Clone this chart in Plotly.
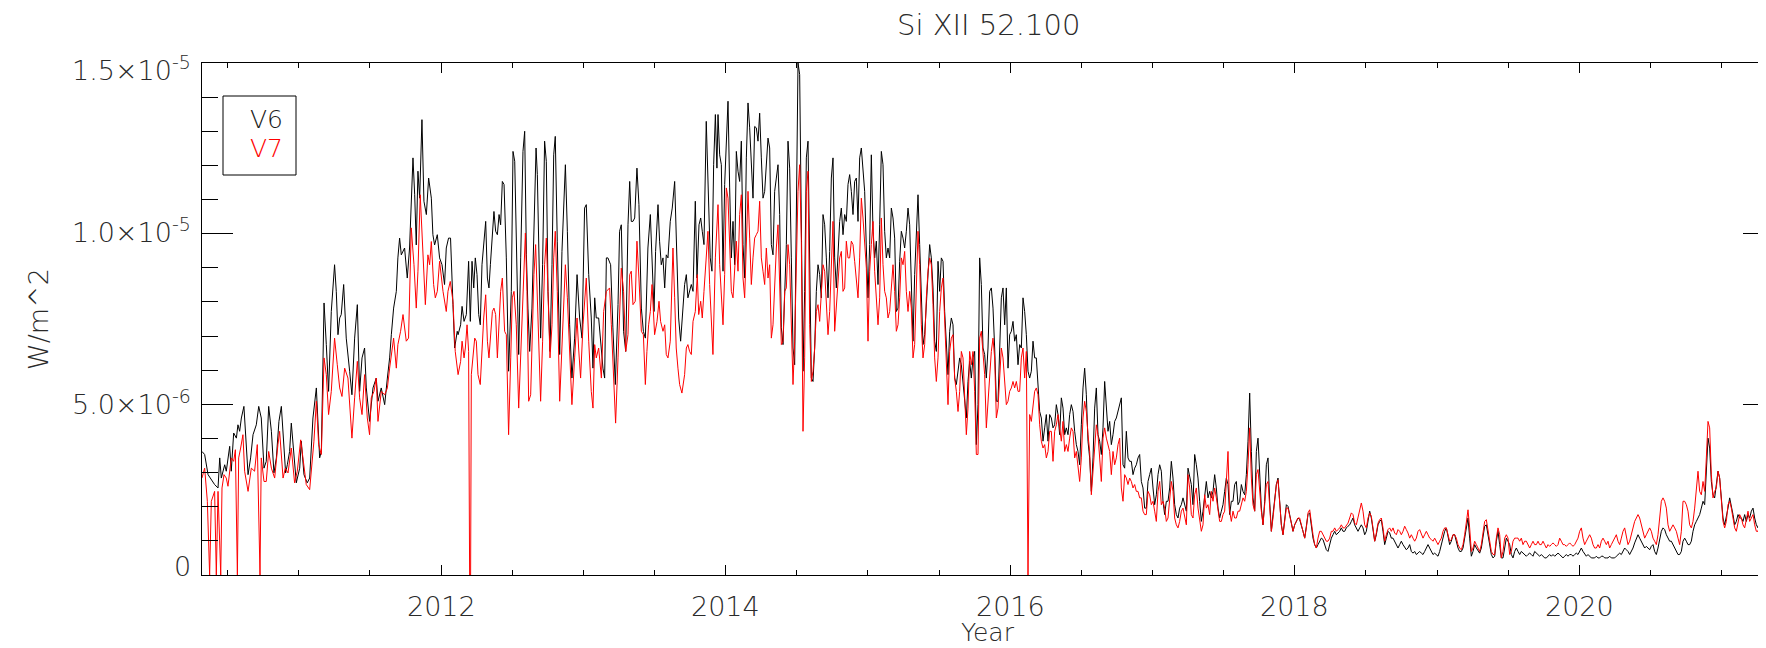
import numpy as np
import plotly.graph_objects as go

# ---------------- text ----------------
title_text = "Si XII 52.100"
x_title = "Year"
y_title = "W/m^2"
series_names = ["V6", "V7"]
series_colors = ["#000000", "#ff0000"]

x_tick_years = [2012, 2014, 2016, 2018, 2020]
y_tick_values = [0.0, 5e-6, 1e-5, 1.5e-5]
y_tick_labels = ["0", "5.0\u00d710<sup>-6</sup>", "1.0\u00d710<sup>-5</sup>", "1.5\u00d710<sup>-5</sup>"]
unit = 1e-6  # values below are in units of 1e-6 W/m^2

# ---------------- data: 2010.3 - 2014.0 (decimal year, value) ----------------
v6_early = [
    (2010.320, 3.62), (2010.339, 3.53), (2010.363, 2.94), (2010.386, 2.79), (2010.409, 2.65),
    (2010.433, 2.55), (2010.445, 3.43), (2010.456, 2.84), (2010.480, 3.23), (2010.491, 3.04),
    (2010.515, 3.77), (2010.526, 3.04), (2010.543, 4.16), (2010.562, 4.01), (2010.573, 4.40),
    (2010.585, 4.21), (2010.597, 4.60), (2010.615, 4.94), (2010.632, 3.82), (2010.644, 2.94),
    (2010.662, 3.43), (2010.679, 4.11), (2010.702, 4.40), (2010.719, 4.94), (2010.737, 4.60),
    (2010.756, 3.13), (2010.772, 3.33), (2010.789, 4.94), (2010.808, 4.21), (2010.826, 2.99),
    (2010.843, 3.43), (2010.861, 4.50), (2010.878, 4.94), (2010.897, 3.62), (2010.908, 2.99),
    (2010.920, 3.23), (2010.936, 3.62), (2010.948, 4.45), (2010.964, 3.67), (2010.983, 2.70),
    (2011.007, 3.13), (2011.018, 3.92), (2011.037, 2.94), (2011.060, 2.70), (2011.077, 2.84),
    (2011.100, 4.60), (2011.124, 5.48), (2011.135, 4.40), (2011.147, 3.43), (2011.159, 3.62),
    (2011.178, 7.97), (2011.194, 6.75), (2011.210, 5.38), (2011.229, 7.72), (2011.252, 9.09),
    (2011.264, 8.31), (2011.276, 7.04), (2011.288, 7.53), (2011.299, 7.63), (2011.316, 8.51),
    (2011.334, 6.94), (2011.358, 5.97), (2011.374, 5.28), (2011.393, 6.94), (2011.412, 7.92),
    (2011.428, 5.38), (2011.445, 6.36), (2011.463, 6.65), (2011.475, 5.48), (2011.498, 4.50),
    (2011.522, 5.48), (2011.545, 5.77), (2011.557, 5.09), (2011.580, 5.48), (2011.604, 4.99),
    (2011.623, 5.77), (2011.639, 6.36), (2011.651, 7.04), (2011.667, 7.82), (2011.686, 8.31),
    (2011.697, 9.29), (2011.709, 9.87), (2011.721, 9.38), (2011.744, 9.58), (2011.763, 8.70),
    (2011.779, 9.58), (2011.791, 11.14), (2011.803, 12.22), (2011.815, 11.14), (2011.826, 9.67),
    (2011.838, 11.83), (2011.850, 11.04), (2011.866, 13.34), (2011.880, 10.95), (2011.897, 10.56),
    (2011.913, 11.63), (2011.932, 11.04), (2011.943, 9.97), (2011.955, 9.67), (2011.974, 9.97),
    (2011.990, 9.29), (2012.007, 9.09), (2012.025, 8.51), (2012.037, 9.58), (2012.053, 9.87),
    (2012.067, 9.87), (2012.084, 7.92), (2012.096, 6.65), (2012.114, 7.14),
    (2012.120, 7.04), (2012.138, 7.33), (2012.148, 7.87), (2012.162, 7.43), (2012.178, 7.63),
    (2012.194, 9.19), (2012.206, 7.43), (2012.218, 9.19), (2012.230, 8.41), (2012.241, 9.29),
    (2012.253, 8.80), (2012.265, 7.63), (2012.276, 7.33), (2012.288, 9.09), (2012.300, 9.68),
    (2012.314, 10.36), (2012.326, 8.70), (2012.337, 8.41), (2012.347, 9.09), (2012.361, 9.87),
    (2012.372, 10.65), (2012.384, 10.07), (2012.396, 9.97), (2012.408, 10.56), (2012.419, 10.26),
    (2012.431, 11.53), (2012.443, 11.44), (2012.459, 9.29), (2012.475, 5.97), (2012.494, 8.31),
    (2012.506, 12.41), (2012.518, 12.12), (2012.534, 8.80), (2012.546, 6.46), (2012.560, 9.29),
    (2012.576, 12.41), (2012.588, 13.00), (2012.600, 9.38), (2012.611, 7.82), (2012.623, 6.55),
    (2012.639, 7.82), (2012.653, 9.87), (2012.668, 12.51), (2012.677, 11.73), (2012.689, 9.29),
    (2012.700, 6.94), (2012.714, 9.09), (2012.728, 12.71), (2012.740, 12.12), (2012.752, 8.31),
    (2012.766, 6.55), (2012.780, 9.09), (2012.792, 12.31), (2012.803, 12.85), (2012.817, 9.78),
    (2012.834, 6.46), (2012.850, 9.48), (2012.874, 12.02), (2012.888, 10.07), (2012.904, 7.33),
    (2012.920, 5.77), (2012.939, 6.94), (2012.956, 8.80), (2012.974, 7.53), (2012.991, 6.94),
    (2013.009, 10.75), (2013.021, 10.85), (2013.038, 8.80), (2013.056, 7.53), (2013.068, 6.06),
    (2013.080, 8.12), (2013.091, 7.53), (2013.108, 7.53), (2013.127, 6.65), (2013.138, 6.06),
    (2013.150, 5.77), (2013.162, 9.29), (2013.173, 9.29), (2013.192, 9.09), (2013.208, 7.24),
    (2013.225, 5.58), (2013.244, 7.92), (2013.255, 10.07), (2013.267, 10.26), (2013.283, 7.14),
    (2013.298, 6.55), (2013.314, 10.26), (2013.326, 11.53), (2013.337, 10.36), (2013.349, 10.36),
    (2013.361, 10.46), (2013.377, 11.92), (2013.391, 10.85), (2013.408, 7.82), (2013.422, 7.14),
    (2013.436, 6.94), (2013.454, 9.58), (2013.471, 10.56), (2013.483, 9.09), (2013.497, 7.72),
    (2013.508, 9.48), (2013.525, 10.85), (2013.536, 9.78), (2013.548, 9.09), (2013.560, 9.29),
    (2013.572, 8.41), (2013.583, 9.38), (2013.595, 9.29), (2013.611, 10.36), (2013.625, 10.75),
    (2013.642, 11.53), (2013.653, 9.68), (2013.670, 7.53), (2013.684, 6.85), (2013.700, 7.72),
    (2013.712, 8.51), (2013.724, 8.80), (2013.735, 8.12), (2013.759, 8.51), (2013.771, 8.31),
    (2013.787, 10.95), (2013.799, 8.70), (2013.813, 10.26), (2013.825, 10.46), (2013.836, 10.07),
    (2013.848, 9.68), (2013.864, 13.29), (2013.881, 10.56), (2013.892, 9.29), (2013.904, 8.90),
    (2013.916, 12.02), (2013.928, 13.49), (2013.939, 11.92),
]

v7_early = [
    (2010.320, 2.84), (2010.339, 3.13), (2010.358, 2.16), (2010.374, 0.0), (2010.386, 2.16),
    (2010.409, 2.45), (2010.421, 0.0), (2010.433, 2.45), (2010.452, 0.0), (2010.461, 2.55),
    (2010.475, 2.94), (2010.491, 2.84), (2010.503, 2.60), (2010.515, 3.04), (2010.526, 3.43),
    (2010.543, 3.33), (2010.555, 3.67), (2010.569, 0.0), (2010.578, 3.43), (2010.592, 3.72),
    (2010.608, 4.11), (2010.620, 3.04), (2010.644, 2.45), (2010.667, 3.13), (2010.690, 3.04),
    (2010.709, 3.82), (2010.728, 0.0), (2010.737, 3.43), (2010.756, 2.74), (2010.772, 2.74),
    (2010.789, 3.62), (2010.808, 3.13), (2010.831, 2.84), (2010.854, 3.82), (2010.866, 4.21),
    (2010.890, 2.84), (2010.906, 3.13), (2010.925, 2.99), (2010.948, 3.72), (2010.971, 2.70),
    (2010.990, 3.04), (2011.014, 3.96), (2011.037, 3.23), (2011.053, 2.65), (2011.077, 2.50),
    (2011.089, 3.04), (2011.107, 3.92), (2011.124, 5.09), (2011.140, 3.82), (2011.159, 3.53),
    (2011.178, 6.36), (2011.194, 5.87), (2011.210, 4.70), (2011.229, 5.38), (2011.252, 6.94),
    (2011.271, 6.16), (2011.288, 5.48), (2011.304, 5.23), (2011.323, 6.06), (2011.346, 5.77),
    (2011.358, 5.09), (2011.374, 4.01), (2011.393, 5.19), (2011.412, 6.26), (2011.428, 5.19),
    (2011.445, 4.70), (2011.463, 5.87), (2011.482, 4.60), (2011.498, 4.11), (2011.510, 5.19),
    (2011.529, 5.38), (2011.545, 5.77), (2011.557, 4.50), (2011.580, 5.38), (2011.604, 5.28),
    (2011.623, 5.48), (2011.639, 6.06), (2011.651, 6.45), (2011.667, 6.94), (2011.686, 6.06),
    (2011.697, 6.75), (2011.716, 7.14), (2011.733, 7.63), (2011.756, 6.85), (2011.772, 6.94),
    (2011.791, 10.17), (2011.810, 9.09), (2011.826, 7.82), (2011.838, 8.90), (2011.854, 11.14),
    (2011.873, 9.48), (2011.890, 7.92), (2011.908, 9.38), (2011.920, 9.09), (2011.932, 9.77),
    (2011.948, 8.51), (2011.960, 8.12), (2011.974, 8.31), (2011.990, 9.19), (2012.014, 8.31),
    (2012.037, 7.72), (2012.049, 8.31), (2012.065, 8.60), (2012.084, 8.02), (2012.100, 6.55),
    (2012.120, 5.87), (2012.138, 6.26), (2012.148, 6.85), (2012.162, 6.36), (2012.171, 6.65),
    (2012.183, 7.33), (2012.194, 6.55), (2012.201, 0.0), (2012.208, 0.0), (2012.213, 5.87),
    (2012.225, 6.55), (2012.237, 6.94), (2012.248, 6.85), (2012.260, 5.87), (2012.276, 5.58),
    (2012.288, 6.75), (2012.300, 7.53), (2012.314, 8.21), (2012.326, 6.85), (2012.337, 6.36),
    (2012.347, 6.94), (2012.361, 7.72), (2012.372, 7.82), (2012.384, 7.63), (2012.396, 6.36),
    (2012.408, 7.53), (2012.419, 8.31), (2012.431, 8.70), (2012.447, 7.14), (2012.459, 7.04),
    (2012.475, 4.11), (2012.490, 6.36), (2012.501, 8.12), (2012.513, 8.31), (2012.529, 7.33),
    (2012.546, 4.89), (2012.560, 6.36), (2012.576, 8.31), (2012.593, 10.02), (2012.604, 8.31),
    (2012.616, 5.09), (2012.630, 5.28), (2012.642, 7.33), (2012.653, 8.80), (2012.665, 9.68),
    (2012.677, 8.31), (2012.689, 6.36), (2012.700, 5.09), (2012.714, 6.85), (2012.728, 9.09),
    (2012.740, 9.87), (2012.752, 8.31), (2012.766, 6.36), (2012.780, 7.33), (2012.792, 9.29),
    (2012.803, 10.07), (2012.817, 8.31), (2012.834, 5.09), (2012.850, 6.55), (2012.874, 9.09),
    (2012.888, 8.12), (2012.904, 6.36), (2012.920, 4.99), (2012.939, 6.36), (2012.956, 7.53),
    (2012.967, 6.65), (2012.981, 5.77), (2012.998, 7.33), (2013.009, 8.12), (2013.021, 8.70),
    (2013.038, 6.85), (2013.056, 5.38), (2013.068, 4.89), (2013.080, 6.75), (2013.091, 6.36),
    (2013.108, 6.65), (2013.127, 5.77), (2013.143, 7.72), (2013.162, 8.31), (2013.185, 8.41),
    (2013.197, 7.33), (2013.213, 5.87), (2013.227, 4.45), (2013.244, 6.36), (2013.255, 7.72),
    (2013.267, 8.99), (2013.283, 8.31), (2013.298, 6.55), (2013.314, 7.04), (2013.326, 8.80),
    (2013.337, 8.90), (2013.349, 7.92), (2013.365, 8.02), (2013.377, 9.78), (2013.391, 8.70),
    (2013.408, 7.14), (2013.422, 7.04), (2013.436, 5.58), (2013.447, 6.55), (2013.459, 7.33),
    (2013.471, 7.72), (2013.483, 8.51), (2013.501, 7.04), (2013.518, 7.43), (2013.532, 8.02),
    (2013.543, 7.43), (2013.560, 7.14), (2013.572, 7.33), (2013.583, 6.46), (2013.595, 6.36),
    (2013.611, 6.85), (2013.630, 9.58), (2013.642, 8.12), (2013.653, 6.65), (2013.665, 6.06),
    (2013.677, 5.58), (2013.693, 5.33), (2013.712, 5.87), (2013.724, 6.65), (2013.735, 6.75),
    (2013.747, 6.55), (2013.759, 6.46), (2013.771, 7.43), (2013.787, 7.72), (2013.801, 8.80),
    (2013.811, 7.63), (2013.825, 8.02), (2013.836, 7.53), (2013.848, 8.31), (2013.864, 9.48),
    (2013.876, 10.07), (2013.888, 8.51), (2013.899, 7.33), (2013.911, 6.46), (2013.928, 9.29),
    (2013.942, 10.85),
]

# ---------------- data: 2014.0 - 2021.4, regular cadence (~4.3 days) ----------------
cadence = 0.011712  # years between samples
segment_starts = [2013.9466, 2015.7737, 2017.6009, 2019.4280]

v6_2014 = [13.49, 12.31, 12.02, 8.90, 11.44, 12.71, 13.88, 11.34, 9.29, 10.36,
           9.09, 12.41, 11.83, 11.53, 12.71, 9.68, 8.70, 12.22, 13.83, 13.10,
           11.92, 11.04, 13.14, 13.10, 12.71, 13.53, 12.22, 11.04, 11.24, 11.92,
           12.80, 12.51, 9.68, 9.38, 11.24, 11.63, 12.02, 10.56, 7.24, 6.75,
           8.41, 9.68, 12.71, 11.92, 9.29, 6.65, 6.16, 11.24, 15.00, 14.66,
           11.04, 5.97, 8.31, 12.22, 12.71, 9.29, 5.77, 5.67, 6.65, 8.31,
           9.09, 8.80, 8.12, 10.56, 10.26, 9.29, 8.12, 9.48, 11.63, 12.22,
           9.29, 8.41, 9.38, 10.36, 10.75, 9.97, 10.56, 10.36, 11.44, 11.73,
           11.24, 10.56, 11.53, 11.63, 10.36, 12.22, 12.51, 11.92, 11.24, 9.58,
           8.12, 9.68, 12.31, 10.07, 9.29, 9.78, 8.51, 10.26, 12.41, 12.02,
           10.07, 9.29, 9.58, 9.29, 10.75, 10.46, 9.87, 7.72, 7.82, 9.19,
           10.07, 9.87, 9.58, 10.07, 10.75, 10.26, 8.31, 6.85, 8.80, 10.07,
           11.14, 9.68, 8.31, 6.75, 7.04, 8.02, 8.80, 9.68, 9.29, 8.41,
           6.85, 6.55, 9.19, 8.31, 9.29, 9.19, 7.72, 6.85, 5.87, 7.14,
           7.53, 7.33, 5.77, 5.58, 6.06, 6.36, 6.16, 5.58, 4.99, 4.60,
           5.67, 6.26, 5.77, 6.36, 6.55, 3.82]
v7_2014 = [10.85, 9.09, 8.12, 7.33, 8.80, 11.34, 11.04, 9.68, 8.31, 8.12,
           9.09, 9.78, 8.90, 10.56, 11.14, 8.70, 8.12, 9.97, 11.24, 9.87,
           8.51, 9.29, 9.87, 9.97, 10.07, 10.95, 9.29, 8.90, 8.51, 9.58,
           8.70, 9.09, 6.94, 7.33, 8.70, 9.58, 10.26, 8.80, 6.75, 6.85,
           8.31, 8.41, 9.68, 9.09, 7.33, 5.58, 6.85, 9.29, 11.24, 12.02,
           9.78, 4.21, 6.36, 11.24, 11.83, 7.33, 5.67, 5.97, 6.65, 7.72,
           7.92, 7.43, 8.31, 9.09, 8.90, 7.72, 7.04, 7.72, 9.38, 10.36,
           7.14, 7.82, 8.51, 9.29, 9.48, 8.31, 8.41, 9.78, 9.29, 9.29,
           9.78, 9.68, 9.19, 8.70, 8.12, 9.29, 11.04, 10.46, 9.78, 8.99,
           6.85, 8.90, 9.68, 10.36, 8.90, 8.12, 7.33, 8.12, 10.46, 9.09,
           8.31, 8.12, 7.53, 7.72, 8.51, 9.09, 8.31, 7.14, 7.33, 8.12,
           9.29, 9.09, 9.48, 8.31, 7.72, 8.31, 7.82, 6.36, 6.75, 8.51,
           10.07, 9.09, 7.33, 6.36, 6.75, 8.12, 8.90, 9.29, 9.09, 7.92,
           6.36, 5.67, 6.36, 7.72, 8.41, 8.70, 7.53, 6.46, 4.99, 6.55,
           6.94, 7.04, 5.77, 5.38, 4.79, 5.38, 6.55, 6.36, 5.38, 4.11,
           4.89, 6.55, 6.16, 6.55, 5.38, 3.53]

v6_2016 = [4.99, 9.29, 8.51, 6.65, 6.46, 5.77, 6.65, 8.31, 8.41, 7.82,
           6.65, 5.09, 5.09, 6.85, 8.12, 8.41, 7.33, 8.41, 6.06, 7.04,
           7.14, 7.43, 6.85, 7.04, 6.16, 6.75, 6.65, 8.12, 7.72, 7.04,
           5.97, 5.77, 5.97, 6.85, 6.36, 6.36, 5.58, 4.79, 4.60, 3.92,
           4.31, 4.70, 3.92, 4.70, 4.60, 4.31, 4.40, 4.99, 4.70, 4.11,
           5.19, 4.89, 4.11, 4.31, 4.11, 4.70, 4.99, 4.79, 4.21, 3.82,
           3.62, 3.23, 4.40, 5.48, 6.06, 5.28, 3.92, 3.43, 2.45, 3.43,
           4.89, 5.48, 4.11, 3.92, 3.53, 4.31, 5.67, 4.89, 4.21, 4.50,
           3.82, 4.11, 4.50, 4.60, 4.79, 4.99, 5.19, 3.23, 3.13, 4.21,
           3.43, 3.33, 3.33, 2.94, 3.13, 3.23, 3.43, 3.53, 2.74, 2.55,
           1.96, 1.96, 2.74, 2.94, 3.13, 2.55, 2.06, 2.35, 2.94, 3.23,
           3.04, 2.16, 1.77, 2.16, 2.16, 2.55, 3.33, 2.84, 2.06, 1.77,
           1.67, 1.96, 2.06, 2.26, 2.06, 1.87, 3.13, 2.84, 2.65, 2.06,
           3.53, 3.23, 2.84, 2.16, 1.57, 1.87, 2.35, 2.74, 2.26, 2.45,
           2.26, 2.45, 2.94, 2.55, 1.96, 1.67, 1.87, 2.06, 2.45, 2.84,
           2.65, 1.77, 2.16, 2.16, 2.65, 2.74]
v7_2016 = [3.53, 6.94, 7.14, 6.36, 5.87, 4.31, 5.09, 5.77, 6.55, 6.94,
           6.36, 4.60, 4.89, 5.77, 6.65, 6.36, 5.77, 4.99, 5.09, 5.38,
           5.48, 5.67, 5.48, 5.67, 5.38, 5.38, 6.36, 6.65, 5.77, 6.55,
           0.00, 4.70, 4.50, 4.89, 5.38, 5.48, 5.28, 4.40, 3.92, 3.72,
           3.82, 3.43, 3.62, 4.21, 4.21, 3.33, 4.21, 4.40, 4.70, 4.31,
           3.92, 4.50, 3.62, 3.82, 3.62, 4.01, 4.31, 4.21, 3.43, 3.62,
           3.23, 2.74, 3.43, 4.60, 5.09, 4.79, 4.11, 3.62, 2.35, 3.04,
           3.82, 4.40, 4.11, 3.33, 2.74, 4.01, 4.31, 4.01, 3.82, 3.62,
           2.94, 3.62, 3.23, 3.43, 3.82, 4.01, 2.55, 2.16, 2.94, 2.84,
           2.65, 2.84, 2.74, 2.55, 2.65, 2.45, 2.45, 2.26, 2.26, 1.87,
           1.77, 1.77, 2.45, 2.35, 2.06, 2.16, 1.87, 1.57, 2.45, 2.74,
           2.06, 2.16, 1.96, 1.57, 1.67, 2.26, 2.74, 2.45, 1.67, 1.47,
           1.38, 1.57, 1.87, 1.96, 1.67, 1.47, 2.94, 2.55, 1.77, 1.67,
           2.35, 2.55, 1.96, 1.57, 1.28, 1.47, 2.35, 1.96, 2.06, 1.77,
           2.45, 2.16, 2.55, 2.26, 1.87, 1.57, 1.57, 1.77, 1.87, 2.65,
           3.62, 1.87, 1.57, 1.87, 1.67, 1.67]

v6_2018 = [2.06, 2.16, 2.65, 2.45, 2.35, 2.94, 3.92, 5.33, 3.62, 2.26,
           1.87, 3.62, 4.01, 2.84, 1.96, 1.47, 2.16, 3.23, 3.43, 2.16,
           1.28, 1.77, 2.16, 2.65, 2.84, 2.16, 1.47, 1.18, 1.67, 2.06,
           2.01, 1.77, 1.47, 1.28, 1.47, 1.57, 1.67, 1.62, 1.47, 1.28,
           1.08, 1.38, 1.77, 1.82, 1.47, 1.08, 0.89, 0.79, 0.89, 0.99,
           1.08, 1.04, 0.89, 0.74, 0.69, 0.89, 1.08, 1.18, 1.28, 1.18,
           1.23, 1.28, 1.38, 1.28, 1.28, 1.38, 1.43, 1.47, 1.57, 1.67,
           1.47, 1.38, 1.28, 1.38, 1.47, 1.38, 1.18, 1.28, 1.57, 1.87,
           1.67, 1.28, 0.99, 1.18, 1.47, 1.57, 1.62, 1.28, 0.89, 1.08,
           1.28, 1.23, 1.08, 1.08, 0.99, 0.89, 0.79, 0.89, 0.99, 0.89,
           0.79, 0.74, 0.79, 0.89, 0.69, 0.64, 0.69, 0.60, 0.64, 0.69,
           0.64, 0.60, 0.69, 0.79, 0.89, 0.79, 0.69, 0.60, 0.64, 0.60,
           0.55, 0.69, 0.89, 1.08, 1.28, 1.38, 1.18, 0.89, 0.99, 1.18,
           1.18, 0.99, 0.79, 0.69, 0.69, 0.79, 1.08, 1.47, 1.67, 1.08,
           0.55, 0.69, 0.89, 0.79, 0.69, 0.64, 0.79, 1.18, 1.43, 1.47,
           1.18, 0.79, 0.60, 0.50, 0.55, 0.99]
v7_2018 = [1.87, 1.87, 2.06, 2.26, 2.16, 2.45, 3.23, 4.31, 2.84, 2.06,
           1.87, 2.94, 3.09, 2.45, 1.87, 1.47, 2.16, 2.65, 2.74, 2.06,
           1.28, 1.67, 2.16, 2.65, 2.79, 2.16, 1.47, 1.18, 1.67, 1.96,
           1.96, 1.77, 1.52, 1.28, 1.47, 1.57, 1.67, 1.67, 1.47, 1.28,
           1.08, 1.38, 1.82, 1.91, 1.47, 1.18, 0.89, 0.79, 1.08, 1.28,
           1.28, 1.18, 1.08, 0.99, 0.99, 1.08, 1.28, 1.28, 1.38, 1.28,
           1.33, 1.38, 1.47, 1.38, 1.38, 1.47, 1.52, 1.67, 1.82, 1.77,
           1.52, 1.47, 1.67, 1.96, 2.11, 1.87, 1.47, 1.38, 1.67, 1.82,
           1.72, 1.38, 0.99, 1.23, 1.52, 1.62, 1.67, 1.38, 0.99, 1.18,
           1.33, 1.38, 1.28, 1.38, 1.23, 1.18, 1.33, 1.28, 1.18, 1.28,
           1.43, 1.33, 1.23, 1.08, 1.18, 1.08, 0.99, 1.08, 1.28, 1.33,
           1.18, 1.08, 1.18, 1.28, 1.18, 1.08, 1.04, 0.99, 1.08, 0.99,
           0.89, 0.99, 1.08, 1.28, 1.38, 1.38, 1.18, 0.99, 1.04, 1.18,
           1.18, 1.08, 0.89, 0.79, 0.74, 0.89, 1.18, 1.57, 1.91, 1.38,
           0.69, 0.79, 0.99, 0.89, 0.79, 0.69, 0.89, 1.28, 1.57, 1.62,
           1.28, 0.89, 0.69, 0.60, 0.60, 1.08]

v6_2020 = [1.28, 0.89, 0.50, 0.50, 0.79, 1.08, 0.99, 0.89, 0.60, 0.50,
           0.69, 0.79, 0.69, 0.60, 0.69, 0.64, 0.60, 0.55, 0.60, 0.64,
           0.60, 0.55, 0.69, 0.64, 0.60, 0.55, 0.60, 0.55, 0.50, 0.50,
           0.55, 0.60, 0.55, 0.60, 0.55, 0.60, 0.64, 0.60, 0.55, 0.50,
           0.55, 0.60, 0.55, 0.60, 0.60, 0.55, 0.60, 0.64, 0.60, 0.69,
           0.79, 0.69, 0.60, 0.55, 0.60, 0.55, 0.50, 0.50, 0.50, 0.55,
           0.50, 0.50, 0.55, 0.55, 0.50, 0.50, 0.50, 0.55, 0.50, 0.50,
           0.50, 0.55, 0.60, 0.64, 0.60, 0.69, 0.79, 0.74, 0.69, 0.60,
           0.69, 0.79, 0.94, 1.08, 1.18, 1.08, 0.99, 0.89, 0.79, 0.84,
           0.79, 0.74, 0.84, 0.89, 0.69, 0.60, 0.79, 1.08, 1.28, 1.38,
           1.33, 1.18, 1.08, 0.99, 0.99, 0.89, 0.79, 0.69, 0.60, 0.60,
           0.69, 0.99, 1.08, 0.99, 0.89, 0.89, 0.99, 1.28, 1.47, 1.57,
           1.67, 1.77, 1.96, 2.16, 2.06, 2.94, 4.01, 3.72, 2.74, 2.35,
           2.26, 2.65, 3.04, 2.84, 2.26, 1.67, 1.47, 1.67, 1.96, 2.26,
           2.06, 1.77, 1.47, 1.57, 1.77, 1.67, 1.67, 1.57, 1.77, 1.57,
           1.77, 1.67, 1.87, 1.96, 1.67, 1.47, 1.38, 1.67, 1.77, 2.01,
           1.87, 1.67, 1.47, 1.57, 1.77, 1.67]
v7_2020 = [1.38, 1.18, 0.50, 0.69, 1.08, 1.18, 1.08, 0.60, 0.69, 0.99,
           1.08, 1.08, 1.08, 0.99, 1.08, 0.89, 0.99, 0.99, 0.89, 0.79,
           0.89, 0.99, 0.89, 0.89, 0.99, 0.89, 0.89, 0.99, 0.89, 0.79,
           0.89, 0.84, 0.89, 0.94, 0.89, 0.84, 0.89, 1.08, 0.99, 0.89,
           0.89, 0.84, 0.89, 0.94, 0.89, 0.84, 0.89, 0.99, 1.08, 1.28,
           1.38, 1.08, 0.89, 0.99, 1.08, 1.18, 1.08, 0.89, 0.79, 0.79,
           0.89, 0.79, 0.99, 1.08, 0.99, 0.89, 0.99, 0.79, 0.89, 0.99,
           1.08, 1.18, 0.99, 0.89, 1.08, 1.28, 1.38, 1.08, 0.89, 0.99,
           1.18, 1.38, 1.57, 1.67, 1.77, 1.67, 1.47, 1.28, 1.08, 1.18,
           1.28, 1.38, 1.28, 1.08, 0.99, 0.89, 1.18, 1.67, 2.16, 2.26,
           2.16, 1.96, 1.47, 1.28, 1.38, 1.47, 1.38, 1.28, 1.08, 0.89,
           1.28, 2.16, 2.16, 2.06, 1.87, 1.47, 1.38, 1.57, 1.96, 2.55,
           3.04, 2.45, 2.35, 2.74, 2.45, 3.43, 4.50, 4.31, 2.94, 2.26,
           2.45, 2.55, 3.04, 2.84, 2.26, 1.57, 1.38, 1.57, 2.06, 2.16,
           1.96, 1.67, 1.38, 1.28, 1.57, 1.77, 1.67, 1.47, 1.38, 1.67,
           1.87, 1.57, 1.67, 1.77, 1.47, 1.28, 1.28, 1.47, 1.67, 2.06,
           1.87, 1.57, 1.38, 1.47, 1.67, 1.57]


def assemble(early, segments):
    xs = [p[0] for p in early]
    ys = [p[1] for p in early]
    for start, seg in zip(segment_starts, segments):
        xs.extend(start + cadence * np.arange(len(seg)))
        ys.extend(seg)
    return np.array(xs), np.array(ys) * unit


x6, y6 = assemble(v6_early, [v6_2014, v6_2016, v6_2018, v6_2020])
x7, y7 = assemble(v7_early, [v7_2014, v7_2016, v7_2018, v7_2020])

# ---------------- styling / layout ----------------
FONT = "DejaVu Sans"
TXT = "#2a2a2a"
FS = 27
W, H = 1766, 648
L, R, T, B = 194, 0, 55, 81
plot_h = H - T - B
plot_w = W - L - R

# vertical placement of each y tick label relative to its tick (px, + = up)
y_label_shift = [8.5, 1.5, 3.0, -5.5]

fig = go.Figure()
fig.add_trace(go.Scatter(x=x6, y=y6, mode="lines", name=series_names[0],
                         line=dict(color=series_colors[0], width=1), showlegend=False,
                         hoverinfo="skip"))
fig.add_trace(go.Scatter(x=x7, y=y7, mode="lines", name=series_names[1],
                         line=dict(color=series_colors[1], width=1), showlegend=False,
                         hoverinfo="skip"))


def txt(size, color=TXT):
    return dict(family=FONT, size=size, color=color, weight=200)


annotations = []
# x tick labels
for yr in x_tick_years:
    annotations.append(dict(text=str(yr), xref="x", yref="paper", x=yr, y=0,
                            yshift=-31, xanchor="center", yanchor="middle",
                            showarrow=False, borderpad=0, font=txt(FS)))
# y tick labels
for val, lab, sh in zip(y_tick_values, y_tick_labels, y_label_shift):
    annotations.append(dict(text=lab, xref="paper", yref="y", x=0, y=val,
                            xshift=-10, yshift=sh, xanchor="right", yanchor="middle",
                            showarrow=False, borderpad=0, font=txt(FS)))
# titles
annotations += [
    dict(text=title_text, xref="paper", yref="paper", x=0.5, y=1 + (T - 17) / plot_h,
         xanchor="center", yanchor="middle", showarrow=False, borderpad=0, font=txt(29)),
    dict(text=x_title, xref="paper", yref="paper", x=0.5, y=-(624 - (H - B)) / plot_h,
         xanchor="center", yanchor="middle", showarrow=False, borderpad=0, font=txt(25)),
    dict(text=y_title, xref="paper", yref="paper", x=-(L - 30) / plot_w, y=0.5,
         xanchor="center", yanchor="middle", textangle=-90, showarrow=False, borderpad=0,
         font=txt(FS)),
    # legend entries
    dict(text=series_names[0], xref="paper", yref="paper", x=(276 - L) / plot_w,
         y=(H - B - 111) / plot_h, xanchor="right", yanchor="middle", showarrow=False,
         borderpad=0, font=txt(25, "#1a1a1a")),
    dict(text=series_names[1], xref="paper", yref="paper", x=(276 - L) / plot_w,
         y=(H - B - 140.5) / plot_h, xanchor="right", yanchor="middle", showarrow=False,
         borderpad=0, font=txt(25, series_colors[1])),
]

fig.update_layout(
    width=W, height=H,
    margin=dict(l=L, r=R, t=T, b=B, pad=0),
    paper_bgcolor="white", plot_bgcolor="white",
    font=txt(FS),
    xaxis=dict(
        range=[2010.3204, 2021.3675],
        showgrid=False, zeroline=False,
        showline=True, linecolor="black", linewidth=1, mirror="ticks",
        ticks="inside", ticklen=10, tickwidth=1, tickcolor="black",
        tickmode="array", tickvals=x_tick_years, showticklabels=False,
        minor=dict(ticks="inside", ticklen=5, tickwidth=1, tickcolor="black",
                   tickmode="linear", tick0=2010.0, dtick=0.5),
    ),
    yaxis=dict(
        range=[0, 1.5e-5],
        showgrid=False, zeroline=False,
        showline=True, linecolor="black", linewidth=1, mirror="ticks",
        ticks="inside", ticklen=31, tickwidth=1, tickcolor="black",
        tickmode="array", tickvals=y_tick_values, showticklabels=False,
        minor=dict(ticks="inside", ticklen=16, tickwidth=1, tickcolor="black",
                   tickmode="linear", tick0=0, dtick=1e-6),
    ),
    shapes=[dict(type="rect", xref="paper", yref="paper",
                 x0=(215 - L) / plot_w, x1=(288 - L) / plot_w,
                 y0=(H - B - 167) / plot_h, y1=(H - B - 88) / plot_h,
                 line=dict(color="black", width=1), fillcolor="rgba(0,0,0,0)")],
    annotations=annotations,
)

fig.write_html("out.html")
